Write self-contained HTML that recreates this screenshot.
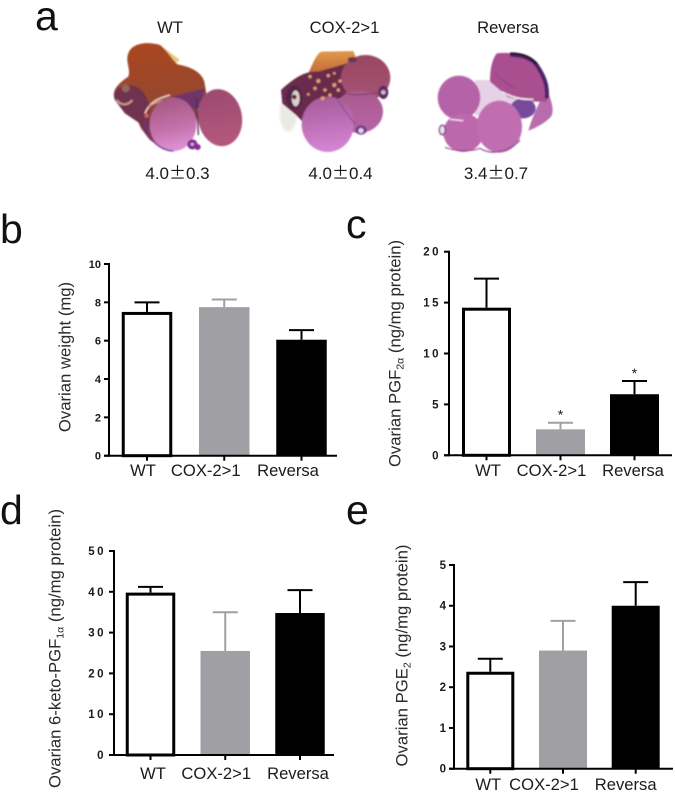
<!DOCTYPE html>
<html lang="en">
<head>
<meta charset="utf-8">
<title>Ovarian measurements</title>
<style>
html,body{margin:0;padding:0;background:#fff;}
#figure{display:block;width:675px;height:793px;}
text{font-family:"Liberation Sans",Arial,sans-serif;fill:#1a1a1a;}
.panel-letter{font-size:41px;fill:#111;}
.head{font-size:16.6px;text-anchor:middle;}
.val{font-size:17px;text-anchor:middle;}
.ylab{font-size:16.7px;text-anchor:middle;fill:#2a2a2a;}
.sub{font-size:10.5px;}
</style>
</head>
<body>
<svg id="figure" xmlns="http://www.w3.org/2000/svg" width="675" height="793" viewBox="0 0 675 793">
  <defs>
    <filter id="soft" x="-5%" y="-5%" width="110%" height="110%"><feGaussianBlur stdDeviation="2.4"/></filter>
    <filter id="softer" x="-20%" y="-20%" width="140%" height="140%"><feGaussianBlur stdDeviation="4"/></filter>
    <filter id="crisp" x="-2%" y="-2%" width="104%" height="104%"><feGaussianBlur stdDeviation="0.3"/></filter>
    <linearGradient id="brown" x1="0.4" y1="0" x2="0.5" y2="1"><stop offset="0" stop-color="#a9471f"/><stop offset=".55" stop-color="#96462f"/><stop offset="1" stop-color="#7a3a3e"/></linearGradient>
    <linearGradient id="pink1" x1="0.3" y1="0" x2="0.5" y2="1"><stop offset="0" stop-color="#a4567f"/><stop offset=".6" stop-color="#c472ac"/><stop offset="1" stop-color="#e094d8"/></linearGradient>
    <linearGradient id="rose1" x1="0.5" y1="0" x2="0.5" y2="1"><stop offset="0" stop-color="#9c4a70"/><stop offset="1" stop-color="#b4587e"/></linearGradient>
    <linearGradient id="pink2" x1="0.4" y1="0" x2="0.5" y2="1"><stop offset="0" stop-color="#a65a9a"/><stop offset="1" stop-color="#d586d4"/></linearGradient>
    <linearGradient id="rose2" x1="0.5" y1="0" x2="0.5" y2="1"><stop offset="0" stop-color="#98485f"/><stop offset="1" stop-color="#a65278"/></linearGradient>
    <linearGradient id="rose3" x1="0.5" y1="0" x2="0.5" y2="1"><stop offset="0" stop-color="#a85a8c"/><stop offset="1" stop-color="#b864a8"/></linearGradient>
    <linearGradient id="orange" x1="0.5" y1="0" x2="0.5" y2="1"><stop offset="0" stop-color="#e09a4c"/><stop offset="1" stop-color="#b85a30"/></linearGradient>
  </defs>

  <rect width="675" height="793" fill="#fff"/>

  <text class="panel-letter" x="35" y="30">a</text>
  <text class="panel-letter" x="0" y="243">b</text>
  <text class="panel-letter" x="346" y="238">c</text>
  <text class="panel-letter" x="0" y="524">d</text>
  <text class="panel-letter" x="346" y="524">e</text>

  <text class="head" x="170" y="33">WT</text>
  <text class="head" x="344.5" y="33">COX-2&gt;1</text>
  <text class="head" x="508" y="33">Reversa</text>

  <text class="val" x="177.5" y="179">4.0<tspan font-family="'Noto Sans CJK JP',sans-serif">±</tspan>0.3</text>
  <text class="val" x="340.5" y="179">4.0<tspan font-family="'Noto Sans CJK JP',sans-serif">±</tspan>0.4</text>
  <text class="val" x="496" y="179">3.4<tspan font-family="'Noto Sans CJK JP',sans-serif">±</tspan>0.7</text>

  <!-- tissue section: WT -->
  <g transform="translate(105,45) scale(.3333)">
    <g filter="url(#soft)">
      <path d="M165,0 L225,45 L205,60 Z" fill="#ecc27e"/>
      <path d="M70,25 C80,-5 125,-12 165,0 C190,20 205,50 218,58 C255,65 290,80 298,110 L305,150 L280,175 L272,250 L240,300 L180,315 L135,285 L108,250 L100,232 L60,205 L30,165 C18,140 35,118 70,95 C78,70 60,50 70,25Z" fill="url(#brown)"/>
      <path d="M28,145 C40,115 85,110 115,140 L135,180 L130,280 L105,235 L60,205 L30,165Z" fill="#6f3250"/>
      <path d="M35,165 C50,185 70,180 82,165" stroke="#c89c90" stroke-width="6" fill="none"/>
      <circle cx="62" cy="130" r="12" fill="#94655f"/>
      <path d="M120,205 C135,170 160,160 195,150" stroke="#f0d0c0" stroke-width="5" fill="none"/>
      <path d="M130,185 C150,170 170,170 190,160" stroke="#d8a090" stroke-width="4" fill="none"/>
      <circle cx="125" cy="212" r="7" fill="#cf5a5e"/>
      <path d="M200,155 L300,130 L285,190 L260,195Z" fill="#6e3468"/>
      <ellipse cx="345" cy="218" rx="66" ry="86" transform="rotate(-10 345 218)" fill="url(#rose1)"/>
      <ellipse cx="204" cy="238" rx="70" ry="81" fill="url(#pink1)"/>
      <path d="M120,225 C125,280 160,315 205,318" stroke="#6f3488" stroke-width="4" fill="none"/>
      <path d="M275,160 L280,270" stroke="#4a2a60" stroke-width="4"/>
      <circle cx="262" cy="298" r="15" fill="#7a2a90"/>
      <circle cx="278" cy="306" r="9" fill="#8a2a96"/>
      <circle cx="262" cy="298" r="5" fill="#dcaadc"/>
      <circle cx="372" cy="268" r="3" fill="#d04060"/>
    </g>
  </g>

  <!-- tissue section: COX-2>1 -->
  <g transform="translate(275,55) scale(.3333)">
    <ellipse cx="40" cy="175" rx="26" ry="55" fill="#ebe9e5" filter="url(#softer)"/>
    <g filter="url(#soft)">
      <path d="M100,55 C115,22 125,-5 140,-10 L235,-12 L245,12 L210,50 L130,75Z" fill="url(#orange)"/>
      <path d="M18,105 C50,75 90,45 130,50 L215,25 L215,120 L120,170 L92,210 L62,178 L22,145Z" fill="#6a2a4c"/>
      <ellipse cx="272" cy="68" rx="74" ry="68" fill="url(#rose2)"/>
      <ellipse cx="252" cy="170" rx="72" ry="64" fill="url(#rose3)"/>
      <ellipse cx="158" cy="208" rx="78" ry="83" fill="url(#pink2)"/>
      <path d="M195,110 C230,125 280,118 328,112" stroke="#7a3a6a" stroke-width="3" fill="none"/>
      <path d="M190,135 C205,165 225,185 242,210" stroke="#8a4a90" stroke-width="3" fill="none"/>
      <ellipse cx="325" cy="112" rx="15" ry="20" fill="#5a2c62"/>
      <circle cx="325" cy="112" r="7" fill="#d4b4c4"/>
      <ellipse cx="258" cy="225" rx="17" ry="14" fill="#6a3a8a"/>
      <circle cx="258" cy="227" r="8" fill="#e6cfe6"/>
      <ellipse cx="58" cy="128" rx="24" ry="36" fill="#4f2648"/>
      <ellipse cx="62" cy="130" rx="12" ry="24" fill="#e0cec6"/>
      <circle cx="58" cy="126" r="7" fill="#5a2a4a"/>
      <ellipse cx="232" cy="14" rx="14" ry="8" fill="#6a3450"/>
      <g fill="#e0a070">
        <circle cx="105" cy="65" r="5"/><circle cx="130" cy="78" r="6"/><circle cx="160" cy="62" r="5"/><circle cx="178" cy="90" r="6"/><circle cx="150" cy="105" r="5"/><circle cx="195" cy="78" r="5"/><circle cx="120" cy="100" r="5"/><circle cx="165" cy="120" r="5"/><circle cx="143" cy="130" r="6"/><circle cx="190" cy="105" r="5"/><circle cx="100" cy="118" r="4"/><circle cx="178" cy="55" r="4"/>
      </g>
    </g>
  </g>

  <!-- tissue section: Reversa -->
  <g transform="translate(435,60) scale(.3333)">
    <g filter="url(#soft)">
      <path d="M335,85 C348,120 360,150 348,170 C330,190 300,205 280,212 C290,180 300,150 335,85Z" fill="#b86cae"/>
      <path d="M120,60 L170,60 L300,120 L290,160 L240,180 L150,170 L120,165Z" fill="#e6d2e6"/>
      <path d="M185,-20 C230,-25 280,-15 300,10 C325,40 345,80 335,125 L295,125 L220,112 L165,65 C165,30 170,0 185,-20Z" fill="#a9508f"/>
      <path d="M225,-16 C265,-14 290,-5 305,15 C325,45 340,75 335,115" stroke="#4a2268" stroke-width="12" fill="none"/>
      <path d="M225,-20 C260,-20 285,-12 305,12" stroke="#1c1020" stroke-width="6" fill="none"/>
      <ellipse cx="264" cy="145" rx="38" ry="30" fill="#77489a"/>
      <ellipse cx="72" cy="113" rx="64" ry="66" fill="#b662a8"/>
      <ellipse cx="85" cy="218" rx="60" ry="58" fill="#bc68ac"/>
      <ellipse cx="193" cy="200" rx="68" ry="78" fill="#c06eb0"/>
      <path d="M30,262 C60,275 110,275 135,265 C165,285 220,280 255,240" stroke="#7a3a90" stroke-width="3" fill="none"/>
      <path d="M45,178 L85,182" stroke="#f0e6f0" stroke-width="4"/>
      <ellipse cx="22" cy="210" rx="9" ry="14" fill="#efe2ef" stroke="#6a2f86" stroke-width="4"/>
      <path d="M200,95 C235,115 265,120 295,118" stroke="#f2ecf2" stroke-width="5" fill="none"/>
      <path d="M180,40 C200,60 215,70 240,85" stroke="#7a3a80" stroke-width="2" fill="none"/>
    </g>
  </g>

  <text class="ylab" transform="translate(70.5,357) rotate(-90)">Ovarian weight (mg)</text>
  <text class="ylab" transform="translate(400.5,353.5) rotate(-90)">Ovarian PGF<tspan class="sub" dy="3">2α</tspan><tspan dy="-3"> (ng/mg protein)</tspan></text>
  <text class="ylab" transform="translate(60.5,648.5) rotate(-90)">Ovarian 6-keto-PGF<tspan class="sub" dy="3">1α</tspan><tspan dy="-3"> (ng/mg protein)</tspan></text>
  <text class="ylab" transform="translate(407.5,655.5) rotate(-90)">Ovarian PGE<tspan class="sub" dy="3">2</tspan><tspan dy="-3"> (ng/mg protein)</tspan></text>

  <g id="charts" filter="url(#crisp)"></g>
</svg>

<script>
const categories = ['WT', 'COX-2>1', 'Reversa'];

const weightTicks = ['0', '2', '4', '6', '8', '10'];
const weightMeans = [7.5, 7.75, 6.05];
const weightErrorTops = [8.0, 8.15, 6.55];

const pgf2aTicks = ['0', '5', '10', '15', '20'];
const pgf2aMeans = [14.5, 2.55, 6.0];
const pgf2aErrorTops = [17.35, 3.2, 7.3];
const pgf2aMarks = ['', '*', '*'];

const ketoTicks = ['0', '10', '20', '30', '40', '50'];
const ketoMeans = [39.8, 25.5, 34.8];
const ketoErrorTops = [41.2, 35, 40.4];

const pge2Ticks = ['0', '1', '2', '3', '4', '5'];
const pge2Means = [2.38, 2.9, 4.0];
const pge2ErrorTops = [2.7, 3.63, 4.58];

const SVG_NS = 'http://www.w3.org/2000/svg';
const chartsRoot = document.getElementById('charts');
const seriesColors = ['#000000', '#a0a0a4', '#000000'];

function make(parent, tag, attrs, text) {
  const el = document.createElementNS(SVG_NS, tag);
  for (const key in attrs) el.setAttribute(key, attrs[key]);
  if (text !== undefined) el.textContent = text;
  parent.appendChild(el);
  return el;
}

function drawChart(cfg) {
  const group = make(chartsRoot, 'g', {});
  
  

  const maxTick = Number(cfg.ticks[cfg.ticks.length - 1]);
  const yScale = v => cfg.yZero - (v / maxTick) * (cfg.yZero - cfg.yTop);
  const xScale = i => cfg.firstCenter + i * cfg.step;

  // bars, then error bars
  cfg.means.forEach((mean, i) => {
    const cx = xScale(i);
    const color = seriesColors[i];
    const top = yScale(mean);
    const errTop = yScale(cfg.errorTops[i]);

    const err = make(group, 'line', { x1: cx, x2: cx, y1: top, y2: errTop, stroke: color, 'stroke-width': 2 });
    
    
    const cap = make(group, 'line', { x1: cx - 12.5, x2: cx + 12.5, y1: errTop, y2: errTop, stroke: color, 'stroke-width': 2 });
    
    

    const inset = i === 0 ? 1.5 : 0;
    const bar = make(group, 'rect', {
      x: cx - cfg.barWidth / 2 + inset,
      y: top + inset,
      width: cfg.barWidth - 2 * inset,
      height: cfg.yZero - top - inset,
      fill: i === 0 ? '#ffffff' : color,
      stroke: i === 0 ? '#000000' : 'none',
      'stroke-width': i === 0 ? 3 : 0
    });
    
    

    if (cfg.marks && cfg.marks[i]) {
      const star = make(group, 'text', { x: cx, y: errTop - 3, 'text-anchor': 'middle', 'font-size': 14 }, cfg.marks[i]);
      
      
    }
  });

  // axes
  const yAxis = make(group, 'line', { x1: cfg.axisX, x2: cfg.axisX, y1: cfg.yTop - 1, y2: cfg.yZero + 1, stroke: '#000', 'stroke-width': 2 });
  
  
  const xAxis = make(group, 'line', { x1: cfg.axisX - 5, x2: cfg.xEnd, y1: cfg.yZero, y2: cfg.yZero, stroke: '#000', 'stroke-width': 2 });
  
  

  cfg.ticks.forEach(label => {
    const y = yScale(Number(label));
    const tick = make(group, 'line', { x1: cfg.axisX - 5, x2: cfg.axisX, y1: y, y2: y, stroke: '#000', 'stroke-width': 2 });
    
    
    const txt = make(group, 'text', {
      x: cfg.axisX - 8,
      y: y + 4,
      'text-anchor': 'end',
      'font-size': cfg.tickSize,
      'font-weight': 'bold',
      'letter-spacing': cfg.tickSpacing
    }, label);
    
    
  });

  categories.forEach((label, i) => {
    const cx = xScale(i);
    const tick = make(group, 'line', { x1: cx, x2: cx, y1: cfg.yZero, y2: cfg.yZero + 5, stroke: '#000', 'stroke-width': 2 });
    
    
    const txt = make(group, 'text', {
      x: cx + cfg.labelShift[i],
      y: cfg.labelY,
      'text-anchor': 'middle',
      'font-size': 16.6
    }, label);
    
    
  });
}

drawChart({ name: 'ovarian-weight', ticks: weightTicks, means: weightMeans, errorTops: weightErrorTops,
  axisX: 109, xEnd: 337, yTop: 264, yZero: 455.7, firstCenter: 147, step: 77.25, barWidth: 50.5,
  labelY: 476, labelShift: [-4, -18.5, -13.5], tickSize: 11, tickSpacing: 0 });

drawChart({ name: 'ovarian-pgf2a', ticks: pgf2aTicks, means: pgf2aMeans, errorTops: pgf2aErrorTops, marks: pgf2aMarks,
  axisX: 449, xEnd: 672, yTop: 251.7, yZero: 455.3, firstCenter: 486.5, step: 74, barWidth: 49,
  labelY: 476, labelShift: [1.5, -9, -1.5], tickSize: 11.5, tickSpacing: 2.5 });

drawChart({ name: 'ovarian-keto-pgf1a', ticks: ketoTicks, means: ketoMeans, errorTops: ketoErrorTops,
  axisX: 114, xEnd: 334, yTop: 551, yZero: 755, firstCenter: 150.5, step: 74.75, barWidth: 49.5,
  labelY: 779, labelShift: [2.5, -9, -2], tickSize: 11.5, tickSpacing: 2.5 });

drawChart({ name: 'ovarian-pge2', ticks: pge2Ticks, means: pge2Means, errorTops: pge2ErrorTops,
  axisX: 454, xEnd: 673, yTop: 565, yZero: 768.7, firstCenter: 490.3, step: 72.7, barWidth: 48,
  labelY: 790, labelShift: [-2, -19, -10], tickSize: 11.5, tickSpacing: 0 });
</script>
</body>
</html>
